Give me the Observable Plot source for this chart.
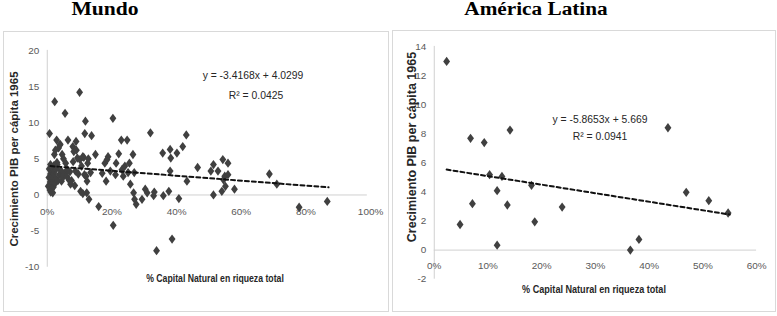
<!DOCTYPE html>
<html><head><meta charset="utf-8">
<script src="https://cdn.jsdelivr.net/npm/d3@7"></script>
<script src="https://cdn.jsdelivr.net/npm/@observablehq/plot@0.6"></script>
<style>
body{margin:0;background:#fff;width:777px;height:316px;position:relative;overflow:hidden;font-family:"Liberation Sans",Arial,sans-serif}
.box{position:absolute;border:1px solid #d9d9d9;box-sizing:border-box}
.box svg{position:absolute;left:-1px;top:-1px;overflow:visible}
.title{position:absolute;top:0;font-family:"Liberation Serif","Times New Roman",serif;font-weight:bold;font-size:18px;line-height:18px;white-space:nowrap;color:#000}
.lbl{position:absolute;white-space:nowrap;line-height:1;color:#404040}
.eq{font-size:11.5px;color:#262626;transform:translate(-50%,-50%) scaleX(0.9)}
.axt{font-size:11px;font-weight:bold;color:#262626;transform:translate(-50%,-50%) scaleX(0.79)}
.yt{font-weight:bold;color:#262626;transform:translate(-50%,-50%) rotate(-90deg)}
</style></head>
<body>
<div id="root"></div>
<script>
// ---- Mundo (x = % capital natural; y = crecimiento PIB per cápita)
const worldX = [0.3,0.5,0.6,0.7,0.8,0.9,1.0,1.0,1.1,1.2,1.2,1.3,1.4,1.5,1.5,1.6,1.7,1.8,1.9,2.0,2.0,2.1,2.2,2.3,2.4,2.5,2.6,2.8,2.9,3.0,3.1,3.3,3.5,3.7,3.9,4.0,4.2,4.4,4.6,4.8,5.0,5.2,5.5,5.7,6.0,6.2,6.4,6.7,7.0,7.2,7.5,7.9,8.0,8.2,8.5,8.7,8.9,9.0,9.3,9.6,10.0,10.1,10.3,10.6,11.0,11.0,11.3,11.5,11.6,11.8,12.0,12.2,12.3,12.5,12.7,12.9,13.4,13.7,14.9,15.9,17.0,17.8,18.2,18.5,18.8,19.5,20.3,20.4,21.1,21.3,22.1,22.9,23.1,23.5,24.0,24.7,25.0,25.4,25.7,26.5,26.7,26.9,27.0,27.5,29.3,30.3,30.9,31.9,32.9,33.1,33.8,35.7,35.9,37.6,38.0,38.0,38.2,38.6,40.1,40.7,41.9,43.0,43.2,46.5,50.6,51.4,51.4,52.8,54.0,54.3,54.5,54.9,55.1,55.9,55.9,57.9,68.7,71.0,77.9,86.6];
const worldY = [1.2,2.4,3.6,8.5,0.7,1.8,4.2,2.9,0.4,1.4,2.2,3.3,0.9,2.6,1.9,3.8,0.3,2.1,1.1,3.0,2.5,4.1,5.6,12.9,1.6,6.2,2.3,3.6,7.6,4.5,4.2,2.0,6.5,2.8,6.9,7.0,3.4,1.9,5.6,2.4,5.0,3.0,11.3,4.4,2.6,3.5,7.6,2.1,3.2,1.5,2.0,6.7,4.6,6.0,1.3,3.3,7.4,6.2,5.1,2.9,14.2,4.9,0.5,4.0,0.2,5.3,5.2,2.8,8.5,10.2,2.6,0.3,1.9,4.4,5.0,-0.6,3.1,8.2,5.6,-1.6,3.0,4.4,1.9,4.9,5.3,3.3,10.6,-4.2,2.8,4.4,5.7,7.6,3.5,2.6,4.0,7.6,3.1,4.4,1.5,5.6,0.3,3.1,-0.6,-1.3,-0.6,0.8,0.3,8.6,-0.1,0.4,-7.7,5.8,-0.1,0.5,6.3,3.3,5.1,-6.1,5.8,-0.5,6.7,8.3,1.9,3.8,3.3,4.2,0.0,3.3,0.5,4.9,2.1,2.6,1.2,4.4,2.8,0.8,2.9,1.5,-1.7,-0.9];
const worldXTicks = [0,0.2,0.4,0.6,0.8,1.0];
const worldYTicks = [-10,-5,0,5,10,15,20];
const worldTrend = {slope:-3.4168, intercept:4.0299, from:0.01, to:0.87};

// ---- América Latina
const latamX = [2.3,4.8,6.75,7.1,9.3,10.3,11.7,11.7,12.6,13.6,14.1,18.1,18.7,23.8,36.5,38.1,43.5,46.9,51.1,54.7];
const latamY = [12.97,1.76,7.68,3.19,7.39,5.18,4.08,0.34,5.06,3.1,8.25,4.45,1.94,2.96,0.0,0.73,8.41,3.97,3.4,2.55];
const latamXTicks = [0,0.1,0.2,0.3,0.4,0.5,0.6];
const latamYTicks = [-2,0,2,4,6,8,10,12,14];
const latamTrend = {slope:-5.8653, intercept:5.669, from:0.023, to:0.55};

const pct = d3.format(".0%");
const diamond = {draw(ctx, size){ const w = Math.sqrt(2*size/1.35), h = w*1.35; ctx.moveTo(0,-h/2); ctx.lineTo(w/2,0); ctx.lineTo(0,h/2); ctx.lineTo(-w/2,0); ctx.closePath(); }};

function panel({xs, ys, xTicks, yTicks, trend, xDomain, yDomain, width, height, m, xLineEnd, xdy}){
  const pts = xs.map((x,i)=>({x:x/100, y:ys[i]}));
  const tr = [trend.from, trend.to].map(x=>({x, y: trend.intercept + trend.slope*x}));
  return Plot.plot({
    width, height, marginLeft:m[3], marginRight:m[1], marginTop:m[0], marginBottom:m[2],
    x:{domain:xDomain, axis:null}, y:{domain:yDomain, axis:null},
    style:{background:"transparent", fontFamily:'"Liberation Sans",Arial,sans-serif', overflow:"visible"},
    marks:[
      Plot.ruleY([0], {x1:xDomain[0], x2:xLineEnd, stroke:"#d0d0d0", strokeWidth:1}),
      Plot.ruleX([0], {y1:yDomain[0], y2:yDomain[1], stroke:"#d0d0d0", strokeWidth:1}),
      Plot.text(xTicks, {x:d=>d, y:0, dy:xdy, text:d=>pct(d), fill:"#595959", fontSize:10}),
      Plot.text(yTicks, {x:0, y:d=>d, dx:-8, textAnchor:"end", text:d=>String(d), fill:"#595959", fontSize:10}),
      Plot.dot(pts, {x:"x", y:"y", symbol:diamond, r:3.2, fill:"#404040", stroke:null}),
      Plot.line(tr, {x:"x", y:"y", stroke:"#111", strokeWidth:2, strokeDasharray:"4,3"})
    ]
  });
}

const root = document.getElementById("root");
function addBox(left, top, w, h, svg){
  const d = document.createElement("div"); d.className="box";
  Object.assign(d.style,{left:left+"px",top:top+"px",width:w+"px",height:h+"px"});
  d.appendChild(svg); root.appendChild(d);
}
function addText(cls, text, x, y, extra){
  const d = document.createElement("div"); d.className = cls; d.textContent = text;
  Object.assign(d.style, {left:x+"px", top:y+"px"}, extra||{}); root.appendChild(d); return d;
}

addBox(3, 31, 386, 281, panel({xs:worldX, ys:worldY, xTicks:worldXTicks, yTicks:worldYTicks, trend:worldTrend,
  xDomain:[0,1], yDomain:[-10,20], width:386, height:281, m:[19,17,44,44], xLineEnd:0.99, xdy:17}));
addBox(392, 30, 384, 282, panel({xs:latamX, ys:latamY, xTicks:latamXTicks, yTicks:latamYTicks, trend:latamTrend,
  xDomain:[0,0.6], yDomain:[-2,14], width:384, height:282, m:[16,18,32,42], xLineEnd:0.6, xdy:16}));

// titles
const t1 = addText("title", "Mundo", 105, 0); t1.style.transform="translateX(-50%) scaleX(1.2)";
const t2 = addText("title", "América Latina", 536, 0); t2.style.transform="translateX(-50%) scaleX(1.18)";
// equations
addText("lbl eq", "y = -3.4168x + 4.0299", 253, 76);
addText("lbl eq", "R² = 0.0425", 256, 96);
addText("lbl eq", "y = -5.8653x + 5.669", 600, 120);
addText("lbl eq", "R² = 0.0941", 600, 137);
// axis titles
addText("lbl axt", "% Capital Natural en riqueza total", 215, 278);
addText("lbl axt", "% Capital Natural en riqueza total", 594, 290, {fontSize:"11.5px"});
addText("lbl yt", "Crecimiento PIB per cápita 1965", 15, 159, {fontSize:"11.5px"});
addText("lbl yt", "Crecimiento PIB per cápita 1965", 412, 147, {fontSize:"12.5px"});
</script>
</body></html>
